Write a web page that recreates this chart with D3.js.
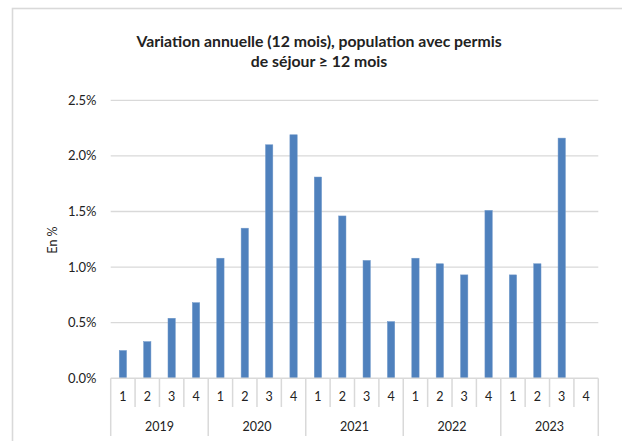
<!DOCTYPE html>
<html lang="fr">
<head>
  <meta charset="UTF-8">
  <title>Variation annuelle</title>
  <script src="https://d3js.org/d3.v7.min.js"></script>
  <style>
    body { margin: 0; background: #fff; }
    text { font-family: Lato, "Open Sans", sans-serif; fill: #222; }
  </style>
</head>
<body>
<svg id="chart" width="622" height="441"></svg>
<script>
  // Data (percent)
  const years = ["2019", "2020", "2021", "2022", "2023"];
  const quarters = ["1", "2", "3", "4"];
  const values = [
    0.25, 0.33, 0.54, 0.68,
    1.08, 1.35, 2.10, 2.19,
    1.81, 1.46, 1.06, 0.51,
    1.08, 1.03, 0.93, 1.51,
    0.93, 1.03, 2.16, null
  ];
  const yTicks = [0, 0.5, 1.0, 1.5, 2.0, 2.5];

  const cats = [];
  years.forEach(y => quarters.forEach(q => cats.push({year: y, q: q})));
  cats.forEach((c, i) => c.value = values[i]);

  const svg = d3.select("#chart");
  const margin = {left: 110.7, right: 598.3, top: 100.3, bottom: 378.3};

  // Outer frame
  svg.append("rect")
    .attr("x", 12.5).attr("y", 8.5)
    .attr("width", 640).attr("height", 460)
    .attr("fill", "none")
    .attr("stroke", "#d9d9d9")
    .attr("stroke-width", 1.6);

  const x = d3.scaleBand()
    .domain(d3.range(cats.length))
    .range([margin.left, margin.right])
    .paddingInner(0.7)
    .paddingOuter(0.35);

  const step = (margin.right - margin.left) / cats.length;

  const y = d3.scaleLinear()
    .domain([0, 2.5])
    .range([margin.bottom, margin.top]);

  // Gridlines
  svg.append("g")
    .selectAll("line")
    .data(yTicks.slice(1))
    .enter().append("line")
    .attr("x1", margin.left).attr("x2", margin.right)
    .attr("y1", d => y(d)).attr("y2", d => y(d))
    .attr("stroke", "#d9d9d9")
    .attr("stroke-width", 1.3);

  // Y labels
  svg.append("g")
    .selectAll("text")
    .data(yTicks)
    .enter().append("text")
    .attr("x", 96.5)
    .attr("y", d => y(d))
    .attr("dy", "0.35em")
    .attr("text-anchor", "end")
    .style("font-size", "13px")
    .text(d => d3.format(".1f")(d) + "%");

  // Bars
  svg.append("g")
    .selectAll("rect")
    .data(cats.map((c, i) => ({...c, i})).filter(c => c.value != null))
    .enter().append("rect")
    .attr("x", d => x(d.i))
    .attr("width", x.bandwidth())
    .attr("y", d => y(d.value))
    .attr("height", d => y(0) - y(d.value))
    .attr("fill", "#4f81bd")
    .attr("stroke", "#6f97c9")
    .attr("stroke-width", 0.5);

  // X axis line
  svg.append("line")
    .attr("x1", margin.left).attr("x2", margin.right)
    .attr("y1", y(0)).attr("y2", y(0))
    .attr("stroke", "#d9d9d9")
    .attr("stroke-width", 1.5);

  // Category ticks (short for quarters, long at year boundaries)
  svg.append("g")
    .selectAll("line")
    .data(d3.range(cats.length + 1))
    .enter().append("line")
    .attr("x1", i => margin.left + i * step)
    .attr("x2", i => margin.left + i * step)
    .attr("y1", y(0))
    .attr("y2", i => i % 4 === 0 ? 436 : 407)
    .attr("stroke", "#d9d9d9")
    .attr("stroke-width", 1.5);

  // Quarter labels
  svg.append("g")
    .selectAll("text")
    .data(cats)
    .enter().append("text")
    .attr("x", (d, i) => margin.left + (i + 0.5) * step)
    .attr("y", 397)
    .attr("dy", "0.35em")
    .attr("text-anchor", "middle")
    .style("font-size", "12.5px")
    .text(d => d.q);

  // Year labels
  svg.append("g")
    .selectAll("text")
    .data(years)
    .enter().append("text")
    .attr("x", (d, i) => margin.left + (i * 4 + 2) * step)
    .attr("y", 426.5)
    .attr("dy", "0.35em")
    .attr("text-anchor", "middle")
    .style("font-size", "12.5px")
    .text(d => d);

  // Y axis title
  svg.append("text")
    .attr("transform", "translate(53,240) rotate(-90)")
    .attr("text-anchor", "middle")
    .attr("dy", "0.35em")
    .style("font-size", "12.5px")
    .text("En %");

  // Chart title
  const title = svg.append("text")
    .attr("text-anchor", "middle")
    .style("font-size", "15.8px")
    .style("font-weight", "bold");
  title.append("tspan").attr("x", 319).attr("y", 47)
    .text("Variation annuelle (12 mois), population avec permis");
  title.append("tspan").attr("x", 319).attr("y", 67)
    .text("de séjour ≥ 12 mois");
</script>
</body>
</html>
